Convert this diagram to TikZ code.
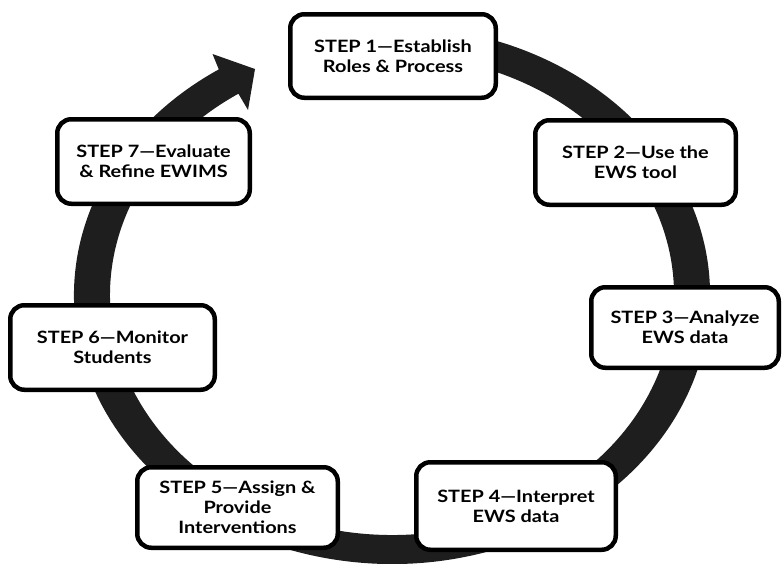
\documentclass[tikz,border=0pt]{standalone}
\usepackage{fontspec}
\setmainfont{Lato}[FakeStretch=1.17]
\usetikzlibrary{calc}
\begin{document}
\begin{tikzpicture}[x=1pt,y=-1pt,
  stepbox/.style={draw=black, line width=4.5pt, rounded corners=14pt, fill=white,
    align=center, inner sep=0pt, font=\fontsize{17}{20}\selectfont\bfseries},
]
\definecolor{ringc}{RGB}{30,30,30}
\useasboundingbox (0,0) rectangle (784,563);
% ring with arrowhead
\fill[ringc] (392,295) ++(-80:318 and 269)
  arc[start angle=-80, end angle=237, x radius=318, y radius=269]
  -- (212.5,54) -- (255,69) -- (248,110)
  -- ($(392,295)+(237:282 and 240)$)
  arc[start angle=237, end angle=-80, x radius=282, y radius=240] -- cycle;
% boxes
\node[stepbox, minimum width=205.5pt, minimum height=83.5pt] (s1) at (393,56) {STEP 1—Establish\\Roles \& Process};
\node[stepbox, minimum width=200.5pt, minimum height=84.5pt] (s2) at (635.5,162.5) {STEP 2—Use the\\EWS tool};
\node[stepbox, minimum width=187.5pt, minimum height=80.5pt] (s3) at (685,327.5) {STEP 3—Analyze\\EWS data};
\node[stepbox, minimum width=199.5pt, minimum height=87.5pt] (s4) at (516,506) {STEP 4—Interpret\\EWS data};
\node[stepbox, minimum width=200.5pt, minimum height=80.5pt] (s5) at (237.5,507.5) {STEP 5—Assign \&\\Provide\\Interventions};
\node[stepbox, minimum width=204.5pt, minimum height=84.5pt] (s6) at (112.5,347.5) {STEP 6—Monitor\\Students};
\node[stepbox, minimum width=192.5pt, minimum height=84.5pt] (s7) at (153.5,161.5) {STEP 7—Evaluate\\\& Refine EWIMS};
\end{tikzpicture}
\end{document}
